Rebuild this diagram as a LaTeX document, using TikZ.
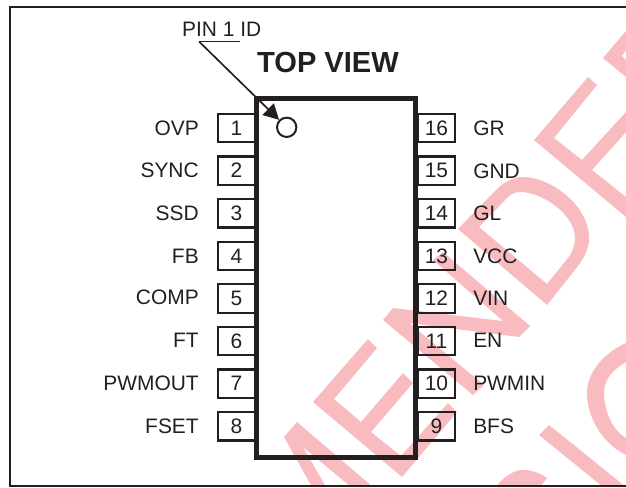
\documentclass[tikz,border=0pt]{standalone}
\usepackage{fontspec}
\setmainfont{Liberation Sans}
\usetikzlibrary{arrows.meta}
\definecolor{inkblack}{HTML}{231F20}
\definecolor{stamppink}{HTML}{F8BBC0}
\tikzset{
  stampstroke/.style={fill=stamppink,even odd rule},
  pinbox/.style={draw=inkblack,line width=1.65pt,rectangle,minimum width=27.75pt,minimum height=21.3pt,inner sep=0pt,text=inkblack,font=\fontsize{15.7}{18}\selectfont},
  pinnameleft/.style={anchor=east,inner sep=0pt,text=inkblack,font=\fontsize{15.7}{18}\selectfont},
  pinnameright/.style={anchor=west,inner sep=0pt,text=inkblack,font=\fontsize{15.7}{18}\selectfont},
}
\begin{document}
\begin{tikzpicture}[x=0.75pt,y=-0.75pt]
        \useasboundingbox (0,0) rectangle (626,487);

        % Stamp letters behind the drawing
        \fill [stampstroke] (284,437) -- (297,422) -- (373,487) -- (351,487) -- (303,447) -- (326,487) -- (312,487) -- cycle;%
        \fill [stampstroke] (313,402) -- (368,339) -- (377,348) -- (334,399) -- (361,422) -- (403,373) -- (413,383) -- (371,432) -- (401,456) -- (448,403) -- (457,412) -- (402,477) -- cycle;%
        \fill [stampstroke] (383,320) -- (393,308) -- (503,321) -- (433,260) -- (443,252) -- (530,326) -- (519,337) -- (409,323) -- (484,385) -- (473,395) -- cycle;%
        \fill [stampstroke] (458,229) -- (497,189) .. controls (506,180) and (517,177) .. (523,177) .. controls (550,177) and (589,205) .. (589,238) .. controls (589,250) and (583,259) .. (578,266) -- (547,305) -- cycle
              (479,227) -- (547,284) -- (568,258) .. controls (573,251) and (575,245) .. (575,238) .. controls (575,215) and (543,192) .. (520,192) .. controls (514,192) and (509,195) .. (505,200) -- cycle;%
        \fill [stampstroke] (534,140) -- (588,77) -- (597,85) -- (554,138) -- (582,160) -- (626,112) -- (626,132) -- (592,170) -- (626,197) -- (626,217) -- cycle;%
        \fill [stampstroke] (603,58) -- (626,31) -- (626,50) -- (622,56) -- (626,60) -- (626,77) -- cycle;%
        \fill [stampstroke] (626,343) .. controls (600,355) and (587,375) .. (587,393) .. controls (587,420) and (605,445) .. (626,455) -- (626,438) .. controls (612,430) and (604,410) .. (604,393) .. controls (604,380) and (612,370) .. (626,362) -- cycle;%
        \fill [stampstroke] (539,435) -- (549,425) -- (626,487) -- (603,487) -- cycle;%
        \fill [stampstroke] (496,487) .. controls (505,475) and (515,470) .. (523,470) .. controls (532,470) and (540,473) .. (547,478) -- (540,487) -- cycle;%

        % Page frame, open on the right
        \draw [inkblack,line width=1.5pt] (626,7) -- (10,7) -- (10,486) -- (626,486);%

        % Pin boxes on the left
        \node [pinbox] (pinA) at (236.5,128.0) {1};
        \node [pinbox] (pinB) at (236.5,170.6) {2};
        \node [pinbox] (pinC) at (236.5,213.2) {3};
        \node [pinbox] (pinD) at (236.5,255.8) {4};
        \node [pinbox] (pinE) at (236.5,298.4) {5};
        \node [pinbox] (pinF) at (236.5,341.0) {6};
        \node [pinbox] (pinG) at (236.5,383.6) {7};
        \node [pinbox] (pinH) at (236.5,426.2) {8};

        % Pin boxes on the right
        \node [pinbox] (pinP) at (436.5,128.0) {16};
        \node [pinbox] (pinO) at (436.5,170.6) {15};
        \node [pinbox] (pinN) at (436.5,213.2) {14};
        \node [pinbox] (pinM) at (436.5,255.8) {13};
        \node [pinbox] (pinL) at (436.5,298.4) {12};
        \node [pinbox] (pinK) at (436.5,341.0) {11};
        \node [pinbox] (pinJ) at (436.5,383.6) {10};
        \node [pinbox] (pinI) at (436.5,426.2) {9};

        % Pin names on the left
        \node [pinnameleft] (nameOVP) at (199,128.0) {OVP};
        \node [pinnameleft] (nameSYNC) at (199,170.6) {SYNC};
        \node [pinnameleft] (nameSSD) at (199,213.2) {SSD};
        \node [pinnameleft] (nameFB) at (199,256.5) {FB};
        \node [pinnameleft] (nameCOMP) at (199,297.5) {COMP};
        \node [pinnameleft] (nameFT) at (199,340.5) {FT};
        \node [pinnameleft] (namePWMOUT) at (199,383.6) {PWMOUT};
        \node [pinnameleft] (nameFSET) at (199,426.2) {FSET};

        % Pin names on the right
        \node [pinnameright] (nameGR) at (473,128.0) {GR};
        \node [pinnameright] (nameGND) at (473,171.0) {GND};
        \node [pinnameright] (nameGL) at (473,213.2) {GL};
        \node [pinnameright] (nameVCC) at (473,255.8) {VCC};
        \node [pinnameright] (nameVIN) at (473,298.4) {VIN};
        \node [pinnameright] (nameEN) at (473,340.5) {EN};
        \node [pinnameright] (namePWMIN) at (473,383.6) {PWMIN};
        \node [pinnameright] (nameBFS) at (473,426.5) {BFS};

        % Package outline
        \draw [inkblack,line width=3.75pt] (256.5,98) rectangle (415.5,457.5);%

        % Marking pin 1 by circle
        \node [draw=inkblack,line width=1.5pt,circle,minimum size=14.5pt,inner sep=0pt] (pinmark) at (286.7,127.3) {};

        % Title and pin 1 label
        \node [inner sep=0pt,text=inkblack,font=\bfseries\fontsize{21.8}{24}\selectfont] (title) at (328,62.7) {TOP VIEW};
        \node [inner sep=0pt,text=inkblack,font=\fontsize{15.7}{18}\selectfont] (idlabel) at (221.7,29) {PIN 1 ID};

        % Drawing the leader to the circle
        \coordinate (idend) at (240,41.5);
        \coordinate (idknee) at (199,41.5);
        \draw [inkblack,line width=1.25pt] (idend) -- (idknee);%
        \draw [inkblack,line width=1.25pt,-{Triangle[length=11.5pt,width=12pt]}] (idknee) -- (pinmark);%
    \end{tikzpicture}
\end{document}
